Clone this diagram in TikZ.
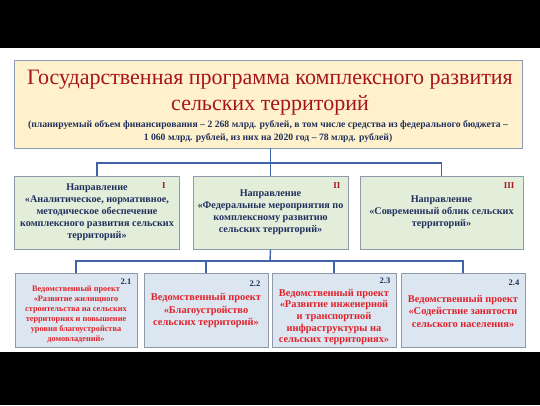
\documentclass[tikz,border=0pt]{standalone}
\usepackage{fontspec}
\setmainfont{Liberation Serif}
\definecolor{cream}{HTML}{FEF1CB}
\definecolor{topborder}{HTML}{8C9BB5}
\definecolor{titlered}{HTML}{A8141B}
\definecolor{navy}{HTML}{22305E}
\definecolor{greenfill}{HTML}{E3EEDA}
\definecolor{bluefill}{HTML}{DCE6F1}
\definecolor{boxborder}{HTML}{8E9AAB}
\definecolor{conn}{HTML}{3F62A8}
\definecolor{redtext}{HTML}{E0222B}
\begin{document}
\begin{tikzpicture}[x=1pt,y=-1pt,
  lvlone/.style={draw=boxborder,line width=0.9pt,fill=greenfill,inner sep=0pt,align=center,
    text=navy,font=\fontsize{10.2}{12}\selectfont\bfseries},
  lvltwo/.style={draw=boxborder,line width=0.9pt,fill=bluefill,inner sep=0pt},
  lvltwotext/.style={inner sep=0pt,align=center,text=redtext,font=\fontsize{10.4}{12.5}\selectfont\bfseries},
  roman/.style={text=titlered,font=\fontsize{9}{10}\selectfont\bfseries,inner sep=0pt},
  numlbl/.style={text=navy,font=\fontsize{8.5}{10}\selectfont\bfseries,inner sep=0pt},
  link/.style={draw=conn,line width=1.4pt}]
\useasboundingbox (0,0) rectangle (540,405);
\fill[white] (0,0) rectangle (540,405);
\fill[black] (0,0) rectangle (540,48);
\fill[black] (0,352) rectangle (540,405);

\node[draw=topborder,line width=0.9pt,fill=cream,minimum width=508pt,minimum height=88pt,inner sep=0pt] (top) at (268,104) {};
\node[inner sep=0pt,align=center,text=titlered,font=\fontsize{22}{26}\selectfont] (title) at (270,93)
 {Государственная программа комплексного развития\\сельских территорий};
\node[inner sep=0pt,align=center,text=navy,font=\fontsize{9.7}{13}\selectfont\bfseries] (sub) at (268,132)
 {(планируемый объем финансирования – 2 268 млрд. рублей, в том числе средства из федерального бюджета –\\
  1 060 млрд. рублей, из них на 2020 год – 78 млрд. рублей)};

\node[lvlone,minimum width=165pt,minimum height=73pt] (d1) at (97,212.5)
 {Направление\\«Аналитическое, нормативное,\\методическое обеспечение\\комплексного развития сельских\\территорий»};
\node[lvlone,minimum width=155pt,minimum height=73pt] (d2) at (270.5,212.5)
 {Направление\\«Федеральные мероприятия по\\комплексному развитию\\сельских территорий»};
\node[lvlone,minimum width=163pt,minimum height=73pt] (d3) at (441.5,212.5)
 {Направление\\«Современный облик сельских\\территорий»};
\node[roman,anchor=north east] (r1) at ([xshift=-14pt,yshift=-7pt]d1.north east) {I};
\node[roman,anchor=north east] (r2) at ([xshift=-8pt,yshift=-7pt]d2.north east) {II};
\node[roman,anchor=north east] (r3) at ([xshift=-9pt,yshift=-7pt]d3.north east) {III};

\node[lvltwo,minimum width=122pt,minimum height=74pt] (p1) at (76,310) {};
\node[lvltwo,minimum width=124pt,minimum height=74pt] (p2) at (206,310) {};
\node[lvltwo,minimum width=124pt,minimum height=74pt] (p3) at (334,310) {};
\node[lvltwo,minimum width=124pt,minimum height=74pt] (p4) at (463,310) {};

\node[lvltwotext,font=\fontsize{8.3}{10}\selectfont\bfseries] (t1) at (76,314.5)
 {Ведомственный проект\\«Развитие жилищного\\строительства на сельских\\территориях и повышение\\уровня благоустройства\\домовладений»};
\node[lvltwotext] (t2) at (206,311)
 {Ведомственный проект\\«Благоустройство\\сельских территорий»};
\node[lvltwotext,font=\fontsize{10.4}{11.6}\selectfont\bfseries] (t3) at (334,317)
 {Ведомственный проект\\«Развитие инженерной\\и транспортной\\инфраструктуры на\\сельских территориях»};
\node[lvltwotext] (t4) at (463,311)
 {Ведомственный проект\\«Содействие занятости\\сельского населения»};

\node[numlbl,anchor=north east] (n1) at ([xshift=-6pt,yshift=-6pt]p1.north east) {2.1};
\node[numlbl,anchor=north east] (n2) at ([xshift=-8pt,yshift=-8pt]p2.north east) {2.2};
\node[numlbl,anchor=north east] (n3) at ([xshift=-6pt,yshift=-5pt]p3.north east) {2.3};
\node[numlbl,anchor=north east] (n4) at ([xshift=-6pt,yshift=-7pt]p4.north east) {2.4};

\coordinate (h1) at (270,163);
\draw[link] (top.south -| d2.north) -- (d2.north);
\draw[link] (h1) -| (d1.north);
\draw[link] (h1) -| (d3.north);
\coordinate (h2) at (270,261);
\draw[link] (d2.south) -- (h2);
\draw[link] (h2) -| (p1.north);
\draw[link] (h2) -| (p2.north);
\draw[link] (h2) -| (p3.north);
\draw[link] (h2) -| (p4.north);
\end{tikzpicture}
\end{document}
